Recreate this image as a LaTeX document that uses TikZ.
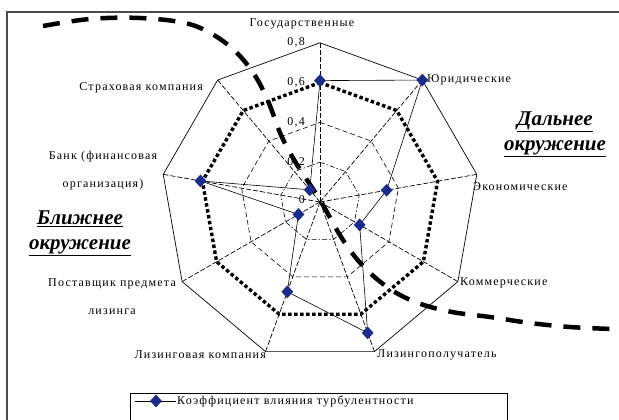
\documentclass[tikz,border=0pt]{standalone}
\usepackage{fontspec}
\setmainfont{Liberation Serif}
\usetikzlibrary{shapes,arrows,positioning,fit,arrows.meta}
\usepackage{xcolor}
\definecolor{markblue}{RGB}{28,44,140}

\begin{document}
\begin{tikzpicture}[x=1pt,y=-1pt,
    axislabel/.style={font=\fontsize{12}{14}\selectfont\addfontfeature{LetterSpace=10},inner sep=1pt},
    twoline/.style={axislabel,align=center,font=\fontsize{12}{28}\selectfont\addfontfeature{LetterSpace=10}},
    ringlabel/.style={font=\fontsize{12}{14}\selectfont\addfontfeature{LetterSpace=10},anchor=east,inner sep=1pt},
    zonelabel/.style={align=center,inner sep=0pt,font=\fontsize{21}{25}\selectfont\bfseries\itshape},
    spoke/.style={line width=0.7pt,dash pattern=on 5pt off 2pt},
    ringeight/.style={line width=0.7pt},
    ringsix/.style={line width=3.4pt,dash pattern=on 3.5pt off 2.5pt},
    ringfour/.style={line width=0.6pt,dash pattern=on 5pt off 3pt},
    ringtwo/.style={line width=0.6pt,dash pattern=on 5pt off 2pt on 1.5pt off 2pt},
    series/.style={line width=0.6pt,black},
    datamark/.style={diamond,fill=markblue,inner sep=0pt,minimum width=12pt,minimum height=13pt},
    border/.style={dash pattern=on 17pt off 12pt,line width=4.5pt},
]
    \useasboundingbox (0,0) rectangle (619,420);
    % Draw frame
    \draw[line width=1.2pt,black!70] (7,420) -- (7,12) -- (619,12);

    % Draw radar grid
    \begin{scope}[shift={(320,202)}]
        \foreach \i in {0,...,8}
            \draw[spoke] (0,0) -- ({40*\i-90}:159);
        \foreach \v/\sty in {0.2/ringtwo,0.4/ringfour,0.8/ringeight,0.6/ringsix}
            \draw[\sty] (-90:{\v*199}) \foreach \i in {1,...,8} { -- ({40*\i-90}:{\v*199}) } -- cycle;
        % Data points
        \foreach \v [count=\i from 0] in {0.61,0.8,0.34,0.23,0.70,0.48,0.125,0.61,0.08}
            \coordinate (p\i) at ({40*\i-90}:{\v*199});
    \end{scope}

    % Draw series line
    \foreach \i [evaluate=\i as \j using {int(mod(\i+1,9))}] in {0,...,8}
        \draw[series] (p\i) -- (p\j);

    % Draw zone boundary
    \draw[border] plot[smooth,tension=0.6] coordinates {(43,26) (90,19) (140,18) (185,23) (212,34) (235,51) (254,74) (268,101) (281,135) (296,163) (320,200) (343,240) (364,267) (390,289) (418,303) (452,312) (490,317) (530,323) (570,327) (612,329)};

    % Draw markers
    \foreach \i in {0,...,8}
        \node[datamark] (d\i) at (p\i) {};

    % Ring values
    \node[ringlabel] (r0) at (306,200) {0};
    \node[ringlabel] (r2) at (306,162) {0,2};
    \node[ringlabel] (r4) at (306,122) {0,4};
    \node[ringlabel] (r6) at (306,82) {0,6};
    \node[ringlabel] (r8) at (306,42) {0,8};

    % Axis labels
    \node[axislabel] (gos) at (302,24) {Государственные};
    \node[axislabel,anchor=west] (yur) at (426,80) {Юридические};
    \node[axislabel,anchor=west] (econ) at (472,187) {Экономические};
    \node[axislabel,anchor=west] (comm) at (459,283) {Коммерческие};
    \node[axislabel,anchor=west] (lpol) at (376,355) {Лизингополучатель};
    \node[axislabel,anchor=east] (lcomp) at (267,355) {Лизинговая компания};
    \node[twoline] (post) at (112,297) {Поставщик предмета\\лизинга};
    \node[twoline] (bank) at (103,171) {Банк (финансовая\\организация)};
    \node[axislabel,anchor=east] (strah) at (204,88) {Страховая компания};

    % Zone labels
    \node[zonelabel] (near) at (80,233) {\underline{Ближнее}\\\underline{окружение}};
    \node[zonelabel] (far) at (555,134) {\underline{Дальнее}\\\underline{окружение}};

    % Draw legend
    \draw[line width=1pt] (130,430) -- (130,393) -- (507,393) -- (507,430);
    \coordinate (la) at (135,401);
    \coordinate (lb) at (176,401);
    \draw[series,line width=1pt] (la) -- (lb);
    \node[datamark] (lm) at (156,401) {};
    \node[axislabel,anchor=west] (legtext) at (lb) {Коэффициент влияния турбулентности};
\end{tikzpicture}
\end{document}
